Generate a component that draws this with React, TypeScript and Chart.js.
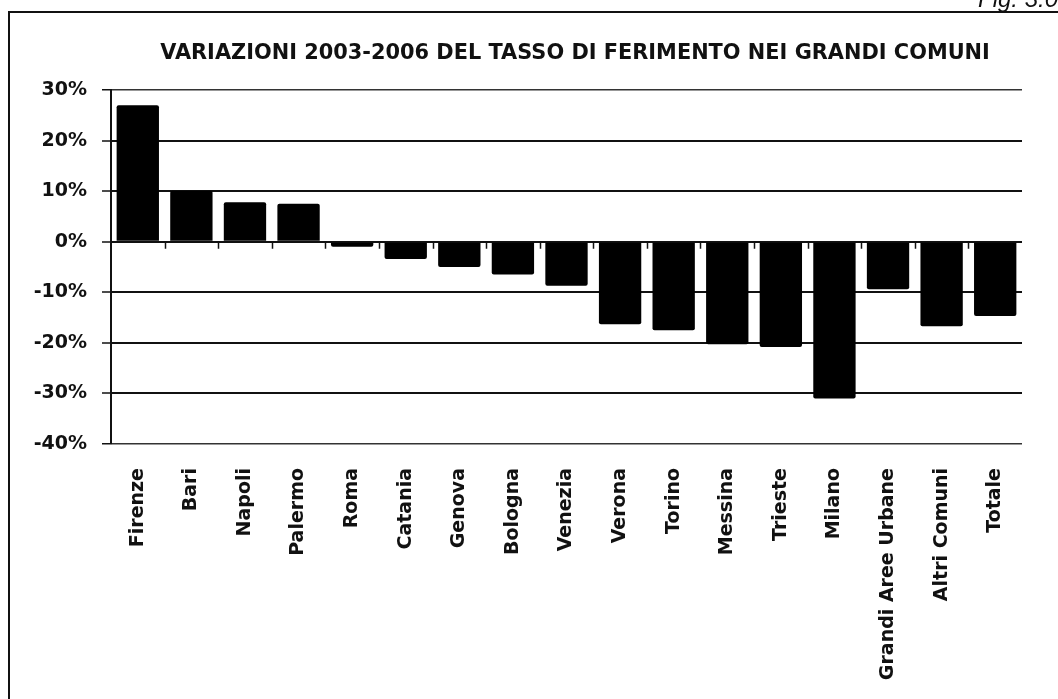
import React, { useEffect, useRef } from "react";
import { Chart, registerables } from "chart.js";

Chart.register(...registerables);

const categories = [
  "Firenze", "Bari", "Napoli", "Palermo", "Roma", "Catania", "Genova", "Bologna",
  "Venezia", "Verona", "Torino", "Messina", "Trieste", "Milano",
  "Grandi Aree Urbane", "Altri Comuni", "Totale",
];
const variazioni = [
  27.0, 10.1, 7.8, 7.5, -1.0, -3.4, -5.0, -6.5, -8.7, -16.3, -17.5, -20.3, -20.8, -31.0,
  -9.4, -16.7, -14.7,
];
const yMin = -40;
const yMax = 30;
const yStep = 10;
const titleText = "VARIAZIONI 2003-2006 DEL TASSO DI FERIMENTO NEI GRANDI COMUNI";
const figLabel = "Fig. 3.0";

const FONT = "'DejaVu Sans', sans-serif";

const decorPlugin = {
  id: "decor",
  beforeDraw(chart: any) {
    const ctx = chart.ctx;
    ctx.save();
    ctx.fillStyle = "#ffffff";
    ctx.fillRect(0, 0, chart.width, chart.height);
    // frame
    ctx.strokeStyle = "#111111";
    ctx.lineWidth = 2;
    ctx.beginPath();
    ctx.moveTo(9, chart.height + 2);
    ctx.lineTo(9, 12);
    ctx.lineTo(chart.width + 2, 12);
    ctx.stroke();
    // figure label (cut at top-right)
    ctx.fillStyle = "#111111";
    ctx.font = "italic 24px 'Liberation Sans', Arial, sans-serif";
    ctx.textAlign = "left";
    ctx.textBaseline = "alphabetic";
    ctx.fillText(figLabel, 978, 7);
    // title
    ctx.font = `bold 20px ${FONT}`;
    const w = ctx.measureText(titleText).width;
    const size = (20 * 830) / w;
    ctx.font = `bold ${size.toFixed(2)}px ${FONT}`;
    ctx.textAlign = "center";
    ctx.fillText(titleText, 575, 58.5);
    ctx.restore();
  },
  afterDatasetsDraw(chart: any) {
    const ctx = chart.ctx;
    const x = chart.scales.x;
    const y = chart.scales.y;
    const y0 = y.getPixelForValue(0);
    const n = categories.length;
    const cw = (x.right - x.left) / n;
    ctx.save();
    ctx.strokeStyle = "#111111";
    ctx.lineWidth = 1.5;
    ctx.beginPath();
    for (let k = 1; k < n; k++) {
      const px = Math.round(x.left + k * cw) + 0.5;
      ctx.moveTo(px, y0);
      ctx.lineTo(px, y0 + 7);
    }
    ctx.stroke();
    ctx.restore();
  },
};

export default function App() {
  const ref = useRef<HTMLCanvasElement | null>(null);
  useEffect(() => {
    if (!ref.current) return;
    const chart = new Chart(ref.current, {
      type: "bar",
      data: {
        labels: categories,
        datasets: [
          {
            data: variazioni,
            backgroundColor: "#000000",
            borderColor: "#000000",
            borderWidth: 0,
            borderRadius: 2,
            borderSkipped: "start",
            categoryPercentage: 1,
            barPercentage: 0.79,
          },
        ],
      },
      options: {
        responsive: false,
        animation: false,
        layout: { padding: { top: 90, right: 36, left: 0, bottom: 0 } },
        plugins: {
          legend: { display: false },
          title: { display: false },
          tooltip: { enabled: false },
        },
        scales: {
          x: {
            grid: { display: false, drawTicks: false },
            border: { display: false },
            ticks: {
              color: "#111111",
              font: { family: FONT, size: 19, weight: "bold" },
              minRotation: 90,
              maxRotation: 90,
              autoSkip: false,
              padding: 24,
            },
            afterFit(scale: any) {
              scale.height = 699 - 444;
            },
          },
          y: {
            min: yMin,
            max: yMax,
            ticks: {
              stepSize: yStep,
              color: "#111111",
              font: { family: FONT, size: 19, weight: "bold" },
              padding: 15,
              callback: (v: any) => `${v}%`,
            },
            grid: {
              color: (c: any) =>
                c.tick && (c.tick.value === yMax || c.tick.value === yMin) ? "#333333" : "#111111",
              lineWidth: (c: any) =>
                c.tick && (c.tick.value === yMax || c.tick.value === yMin) ? 1.5 : 2,
              tickColor: "#111111",
              tickLength: 9,
              tickWidth: 1.5,
            },
            border: { display: true, color: "#111111", width: 2 },
            afterFit(scale: any) {
              scale.width = 111;
            },
          },
        },
      },
      plugins: [decorPlugin],
    });
    return () => chart.destroy();
  }, []);
  return (
    <div
      style={{
        position: "fixed",
        left: 0,
        top: 0,
        width: 1058,
        height: 699,
        overflow: "hidden",
        background: "#fff",
      }}
    >
      <canvas ref={ref} width={1058} height={699} style={{ display: "block" }} />
    </div>
  );
}
